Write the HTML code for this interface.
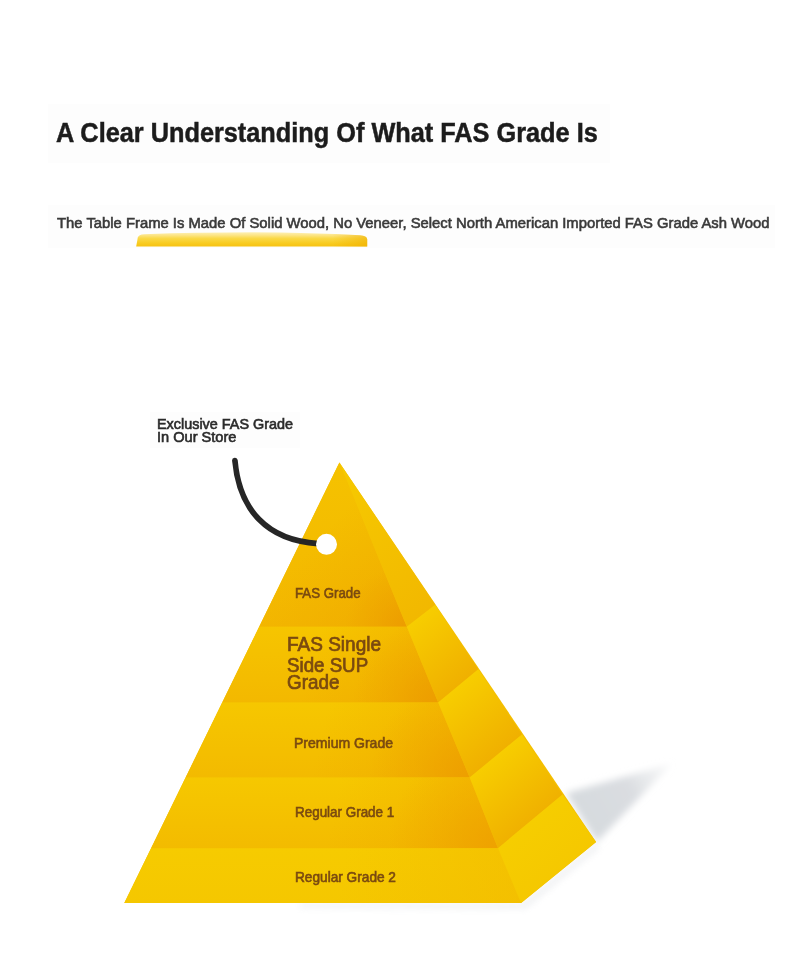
<!DOCTYPE html>
<html lang="en">
<head>
<meta charset="utf-8">
<title>A Clear Understanding Of What FAS Grade Is</title>
<style>
html,body{margin:0;padding:0;background:#fff;}
body{width:790px;height:965px;position:relative;overflow:hidden;font-family:"Liberation Sans",Arial,sans-serif;}
.t{position:absolute;white-space:nowrap;transform-origin:0 0;line-height:1;margin:0;}
h1.t{font-weight:700;font-size:26.8px;color:#1c1c1c;-webkit-text-stroke:0.5px #1c1c1c;left:56.1px;top:119.6px;transform:scaleX(0.9443);}
p.sub{font-weight:400;font-size:15.1px;color:#3a3a3a;-webkit-text-stroke:0.6px #3a3a3a;left:57.2px;top:214.8px;transform:scaleX(0.9819);}
.call{font-weight:400;font-size:14.1px;color:#2b2b2b;-webkit-text-stroke:0.6px #2b2b2b;}
.lab{font-weight:400;font-size:14.2px;color:#7a4a10;-webkit-text-stroke:0.6px #7a4a10;}
.big{font-weight:400;font-size:19.6px;color:#7a4a10;-webkit-text-stroke:0.7px #7a4a10;}
.bar{position:absolute;left:136px;top:230px;}
.box{position:absolute;background:#fdfdfd;}
svg.pyr{position:absolute;left:0;top:0;}
</style>
</head>
<body>
<div class="box" style="left:48px;top:104px;width:562px;height:59px;"></div>
<div class="box" style="left:48px;top:205px;width:727px;height:43px;"></div>
<div class="box" style="left:150px;top:412px;width:150px;height:36px;"></div>
<h1 class="t" id="h1">A Clear Understanding Of What FAS Grade Is</h1>
<svg class="bar" width="240" height="20" viewBox="0 0 240 20">
<defs><linearGradient id="bg" x1="0" y1="0" x2="0" y2="1"><stop offset="0" stop-color="#fdf0b4"/><stop offset="0.2" stop-color="#fce588"/><stop offset="0.42" stop-color="#fad948"/><stop offset="0.75" stop-color="#f8cc22"/><stop offset="1" stop-color="#f6c212"/></linearGradient>
<linearGradient id="bg2" x1="0" y1="0" x2="1" y2="0"><stop offset="0.85" stop-color="#f0b000" stop-opacity="0"/><stop offset="1" stop-color="#f0b000" stop-opacity="0.6"/></linearGradient></defs>
<path d="M0.2,16.5 L1.8,7.5 Q2.6,4.6 8,4.2 Q60,2.3 115,2.3 Q175,2.5 224,5.3 Q231,5.8 231.2,9.5 L231.2,16.5 Z" fill="url(#bg)"/>
<path d="M0.2,16.5 L1.8,7.5 Q2.6,4.6 8,4.2 Q60,2.3 115,2.3 Q175,2.5 224,5.3 Q231,5.8 231.2,9.5 L231.2,16.5 Z" fill="url(#bg2)"/>
</svg>
<p class="t sub" id="sub">The Table Frame Is Made Of Solid Wood, No Veneer, Select North American Imported FAS Grade Ash Wood</p>

<svg class="pyr" width="790" height="965" viewBox="0 0 790 965">
<defs>
<filter id="blur" x="-30%" y="-30%" width="160%" height="160%"><feGaussianBlur stdDeviation="3.6"/></filter>
<filter id="blur2" x="-30%" y="-30%" width="160%" height="160%"><feGaussianBlur stdDeviation="3"/></filter>
<linearGradient id="sh" gradientUnits="userSpaceOnUse" x1="580" y1="820" x2="672" y2="764"><stop offset="0" stop-color="#d6dade"/><stop offset="0.55" stop-color="#dadde1"/><stop offset="1" stop-color="#e6e8ea" stop-opacity="0.25"/></linearGradient>
<linearGradient id="fv0" gradientUnits="userSpaceOnUse" x1="0" y1="462.4" x2="0" y2="626.8"><stop offset="0" stop-color="#f5c200"/><stop offset="1" stop-color="#f3b700"/></linearGradient>
<linearGradient id="fo0" gradientUnits="userSpaceOnUse" x1="313.8" y1="544.6" x2="406.8" y2="626.8"><stop offset="0" stop-color="#ec9a00" stop-opacity="0"/><stop offset="1" stop-color="#ec9a00" stop-opacity="0.4"/></linearGradient>
<radialGradient id="fr0" gradientUnits="userSpaceOnUse" cx="406.8" cy="626.8" r="62"><stop offset="0" stop-color="#ec9a00" stop-opacity="0.85"/><stop offset="0.5" stop-color="#ec9a00" stop-opacity="0.35"/><stop offset="1" stop-color="#ec9a00" stop-opacity="0"/></radialGradient>
<linearGradient id="fv1" gradientUnits="userSpaceOnUse" x1="0" y1="626.8" x2="0" y2="702.5"><stop offset="0" stop-color="#f6c500"/><stop offset="1" stop-color="#f3b800"/></linearGradient>
<linearGradient id="fo1" gradientUnits="userSpaceOnUse" x1="310.7" y1="664.6" x2="438.2" y2="702.5"><stop offset="0" stop-color="#ec9a00" stop-opacity="0"/><stop offset="1" stop-color="#ec9a00" stop-opacity="0.4"/></linearGradient>
<radialGradient id="fr1" gradientUnits="userSpaceOnUse" cx="438.2" cy="702.5" r="85"><stop offset="0" stop-color="#ec9a00" stop-opacity="0.85"/><stop offset="0.5" stop-color="#ec9a00" stop-opacity="0.35"/><stop offset="1" stop-color="#ec9a00" stop-opacity="0"/></radialGradient>
<linearGradient id="fv2" gradientUnits="userSpaceOnUse" x1="0" y1="702.5" x2="0" y2="777.5"><stop offset="0" stop-color="#f6c700"/><stop offset="1" stop-color="#f3ba00"/></linearGradient>
<linearGradient id="fo2" gradientUnits="userSpaceOnUse" x1="319.7" y1="740.0" x2="469.7" y2="777.5"><stop offset="0" stop-color="#ed9c00" stop-opacity="0"/><stop offset="1" stop-color="#ed9c00" stop-opacity="0.4"/></linearGradient>
<radialGradient id="fr2" gradientUnits="userSpaceOnUse" cx="469.7" cy="777.5" r="100"><stop offset="0" stop-color="#ed9c00" stop-opacity="0.85"/><stop offset="0.5" stop-color="#ed9c00" stop-opacity="0.35"/><stop offset="1" stop-color="#ed9c00" stop-opacity="0"/></radialGradient>
<linearGradient id="fv3" gradientUnits="userSpaceOnUse" x1="0" y1="777.5" x2="0" y2="848.2"><stop offset="0" stop-color="#f6c800"/><stop offset="1" stop-color="#f3bb00"/></linearGradient>
<linearGradient id="fo3" gradientUnits="userSpaceOnUse" x1="333.0" y1="812.9" x2="498.0" y2="848.2"><stop offset="0" stop-color="#ee9f00" stop-opacity="0"/><stop offset="1" stop-color="#ee9f00" stop-opacity="0.4"/></linearGradient>
<radialGradient id="fr3" gradientUnits="userSpaceOnUse" cx="498.0" cy="848.2" r="110"><stop offset="0" stop-color="#ee9f00" stop-opacity="0.85"/><stop offset="0.5" stop-color="#ee9f00" stop-opacity="0.35"/><stop offset="1" stop-color="#ee9f00" stop-opacity="0"/></radialGradient>
<linearGradient id="fv4" gradientUnits="userSpaceOnUse" x1="0" y1="848.2" x2="0" y2="903.1"><stop offset="0" stop-color="#f6cb00"/><stop offset="1" stop-color="#f5c700"/></linearGradient>
<linearGradient id="fo4" gradientUnits="userSpaceOnUse" x1="341.1" y1="875.7" x2="521.1" y2="903.1"><stop offset="0" stop-color="#f2b800" stop-opacity="0"/><stop offset="1" stop-color="#f2b800" stop-opacity="0.5"/></linearGradient>
<radialGradient id="fr4" gradientUnits="userSpaceOnUse" cx="521.1" cy="903.1" r="120"><stop offset="0" stop-color="#f2b800" stop-opacity="0.85"/><stop offset="0.5" stop-color="#f2b800" stop-opacity="0.35"/><stop offset="1" stop-color="#f2b800" stop-opacity="0"/></radialGradient>
<linearGradient id="rg0" gradientUnits="userSpaceOnUse" x1="339.4" y1="462.4" x2="444.3" y2="597.8"><stop offset="0" stop-color="#f6ca00"/><stop offset="1" stop-color="#f2b800"/></linearGradient>
<linearGradient id="rg1" gradientUnits="userSpaceOnUse" x1="406.8" y1="626.8" x2="456.8" y2="687.0"><stop offset="0" stop-color="#f7cd00"/><stop offset="1" stop-color="#f0b000"/></linearGradient>
<linearGradient id="rg2" gradientUnits="userSpaceOnUse" x1="438.2" y1="702.5" x2="487.7" y2="762.6"><stop offset="0" stop-color="#f7cd00"/><stop offset="1" stop-color="#f0b000"/></linearGradient>
<linearGradient id="rg3" gradientUnits="userSpaceOnUse" x1="469.7" y1="777.5" x2="516.1" y2="833.1"><stop offset="0" stop-color="#f7cd00"/><stop offset="1" stop-color="#f0b100"/></linearGradient>
<linearGradient id="rg4" gradientUnits="userSpaceOnUse" x1="498.0" y1="848.2" x2="534.1" y2="892.5"><stop offset="0" stop-color="#f6cd00"/><stop offset="1" stop-color="#f5c800"/></linearGradient>
</defs>
<g filter="url(#blur)"><polygon points="566,793 672,763.5 597,842" fill="url(#sh)"/></g>
<g filter="url(#blur2)" opacity="0.45"><polygon points="521,903 596,842 600,848 526,909 300,908 300,903" fill="#e3e5e8"/></g>
<polygon points="339.4,462.4 596.1,841.9 521.1,903.1 124.3,903.1" fill="#f4bf00"/>
<polygon points="339.4,462.4 406.8,626.8 259.2,626.8" fill="url(#fv0)"/>
<polygon points="339.4,462.4 406.8,626.8 259.2,626.8" fill="url(#fo0)"/>
<polygon points="339.4,462.4 406.8,626.8 259.2,626.8" fill="url(#fr0)"/>
<polygon points="259.2,626.8 406.8,626.8 438.2,702.5 222.2,702.5" fill="url(#fv1)"/>
<polygon points="259.2,626.8 406.8,626.8 438.2,702.5 222.2,702.5" fill="url(#fo1)"/>
<polygon points="259.2,626.8 406.8,626.8 438.2,702.5 222.2,702.5" fill="url(#fr1)"/>
<polygon points="222.2,702.5 438.2,702.5 469.7,777.5 185.6,777.5" fill="url(#fv2)"/>
<polygon points="222.2,702.5 438.2,702.5 469.7,777.5 185.6,777.5" fill="url(#fo2)"/>
<polygon points="222.2,702.5 438.2,702.5 469.7,777.5 185.6,777.5" fill="url(#fr2)"/>
<polygon points="185.6,777.5 469.7,777.5 498.0,848.2 151.1,848.2" fill="url(#fv3)"/>
<polygon points="185.6,777.5 469.7,777.5 498.0,848.2 151.1,848.2" fill="url(#fo3)"/>
<polygon points="185.6,777.5 469.7,777.5 498.0,848.2 151.1,848.2" fill="url(#fr3)"/>
<polygon points="151.1,848.2 498.0,848.2 521.1,903.1 124.3,903.1" fill="url(#fv4)"/>
<polygon points="151.1,848.2 498.0,848.2 521.1,903.1 124.3,903.1" fill="url(#fo4)"/>
<polygon points="339.4,462.4 435.2,604.8 406.8,626.8" fill="url(#rg0)"/>
<polygon points="406.8,626.8 435.2,604.8 478.3,669.2 438.2,702.5" fill="url(#rg1)"/>
<polygon points="438.2,702.5 478.3,669.2 522.0,734.4 469.7,777.5" fill="url(#rg2)"/>
<polygon points="469.7,777.5 522.0,734.4 562.5,794.4 498.0,848.2" fill="url(#rg3)"/>
<polygon points="498.0,848.2 562.5,794.4 596.1,841.9 521.1,903.1" fill="url(#rg4)"/>
<path d="M234.9,460.6 C239.3,509.7 266.9,540.5 318,543.6" fill="none" stroke="#262626" stroke-width="5.7" stroke-linecap="round"/>
<circle cx="326.5" cy="544.3" r="10.5" fill="#fff"/>
</svg>

<div class="t call" id="c1" style="left:156.98px;top:416.60px;transform:scaleX(1.0212);">Exclusive FAS Grade</div>
<div class="t call" id="c2" style="left:156.97px;top:429.60px;transform:scaleX(1.0342);">In Our Store</div>
<div class="t lab" id="l1" style="left:294.67px;top:586.10px;transform:scaleX(0.9348);">FAS Grade</div>
<div class="t big" id="b1" style="left:286.93px;top:634.70px;transform:scaleX(0.9698);">FAS Single</div>
<div class="t big" id="b2" style="left:286.95px;top:656.40px;transform:scaleX(0.9548);">Side SUP</div>
<div class="t big" id="b3" style="left:286.94px;top:673.20px;transform:scaleX(0.9623);">Grade</div>
<div class="t lab" id="l3" style="left:293.51px;top:736.00px;transform:scaleX(0.9889);">Premium Grade</div>
<div class="t lab" id="l4" style="left:294.65px;top:805.20px;transform:scaleX(0.9462);">Regular Grade 1</div>
<div class="t lab" id="l5" style="left:294.64px;top:870.20px;transform:scaleX(0.9625);">Regular Grade 2</div>
</body>
</html>
